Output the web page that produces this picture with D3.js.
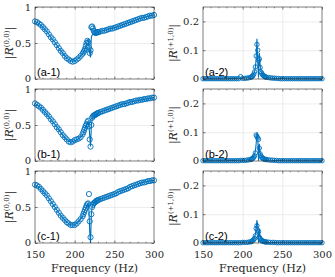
<!DOCTYPE html>
<html>
<head>
<meta charset="utf-8">
<script src="https://cdn.jsdelivr.net/npm/d3@7"></script>
<style>
  body { margin: 0; background: #fff; }
</style>
</head>
<body>
<div id="chart"></div>
<script>
// frequency grids (Hz)
const freqExp = [150,152.5,155,157.5,160,162.5,165,167.5,170,172.5,175,177.5,180,182.5,185,187.5,190,192.5,195,197.5,200,202.5,205,207.5,210,
  211,212,213,214,215,216,217,218,219,220,221,222,223,224,225,226,227,228,229,
  230,232.5,235,237.5,240,242.5,245,247.5,250,252.5,255,257.5,260,262.5,265,267.5,270,272.5,275,277.5,280,282.5,285,287.5,290,292.5,295,297.5,300];
const freqSim = [150,155,160,165,170,175,180,185,190,195,200,205,210,
  211,212,213,214,215,216,217,218,219,220,221,222,223,224,225,226,227,228,229,
  230,235,240,245,250,255,260,265,270,275,280,285,290,295,300];

// |R(0,0)| measured (circles) and computed (line)
const expA1 = [0.80,0.79,0.77,0.75,0.72,0.69,0.66,0.62,0.58,0.55,0.51,0.47,0.43,0.39,0.36,0.32,0.29,0.27,0.25,0.24,0.25,0.27,0.29,0.32,0.35,
  0.37,0.39,0.42,0.46,0.50,0.53,0.51,0.44,0.36,0.40,0.72,0.73,0.70,0.67,0.65,0.64,0.64,0.65,0.65,
  0.65,0.66,0.67,0.67,0.68,0.69,0.70,0.70,0.71,0.72,0.73,0.74,0.75,0.76,0.77,0.78,0.79,0.80,0.81,0.82,0.83,0.84,0.85,0.85,0.86,0.87,0.88,0.88,0.89];
const simA1 = [0.80,0.77,0.72,0.66,0.58,0.51,0.43,0.36,0.29,0.25,0.25,0.29,0.35,
  0.37,0.39,0.42,0.45,0.49,0.53,0.55,0.48,0.36,0.30,0.58,0.61,0.62,0.62,0.63,0.63,0.64,0.64,0.65,
  0.65,0.67,0.68,0.70,0.71,0.73,0.75,0.77,0.79,0.81,0.83,0.85,0.86,0.88,0.89];
const expB1 = [0.80,0.78,0.76,0.74,0.71,0.68,0.65,0.62,0.58,0.55,0.51,0.47,0.44,0.40,0.36,0.33,0.30,0.27,0.26,0.27,0.29,0.30,0.31,0.33,0.37,
  0.40,0.43,0.46,0.49,0.51,0.54,0.56,0.48,0.30,0.20,0.50,0.60,0.62,0.63,0.64,0.64,0.65,0.66,0.66,
  0.67,0.68,0.69,0.70,0.71,0.72,0.73,0.74,0.75,0.76,0.77,0.78,0.79,0.79,0.80,0.81,0.82,0.82,0.83,0.84,0.84,0.85,0.85,0.86,0.86,0.87,0.87,0.88,0.88];
const simB1 = [0.80,0.76,0.71,0.65,0.58,0.51,0.44,0.36,0.30,0.26,0.28,0.31,0.36,
  0.39,0.42,0.45,0.48,0.50,0.53,0.55,0.50,0.35,0.20,0.48,0.58,0.61,0.62,0.63,0.64,0.65,0.65,0.66,
  0.67,0.69,0.71,0.73,0.75,0.77,0.79,0.80,0.82,0.83,0.84,0.85,0.86,0.87,0.88];
const expC1 = [0.81,0.80,0.78,0.75,0.72,0.69,0.66,0.62,0.58,0.54,0.50,0.46,0.42,0.38,0.35,0.32,0.29,0.27,0.25,0.25,0.25,0.27,0.30,0.33,0.37,
  0.40,0.43,0.46,0.49,0.52,0.54,0.55,0.68,0.30,0.08,0.40,0.50,0.53,0.55,0.56,0.57,0.58,0.59,0.59,
  0.60,0.61,0.62,0.63,0.64,0.65,0.66,0.67,0.68,0.69,0.71,0.72,0.73,0.74,0.75,0.76,0.78,0.79,0.80,0.81,0.82,0.83,0.84,0.84,0.85,0.86,0.86,0.87,0.87];
const simC1 = [0.81,0.78,0.72,0.66,0.58,0.50,0.42,0.35,0.29,0.25,0.25,0.30,0.37,
  0.40,0.43,0.46,0.48,0.50,0.53,0.55,0.45,0.15,0.00,0.40,0.50,0.53,0.55,0.56,0.57,0.58,0.59,0.59,
  0.60,0.62,0.64,0.66,0.68,0.71,0.73,0.75,0.78,0.80,0.82,0.84,0.85,0.86,0.87];

// |R(+1,0)| measured (circles) and computed (line)
const expA2 = [0.001,0.001,0.001,0.001,0.001,0.001,0.001,0.001,0.001,0.001,0.001,0.001,0.001,0.001,0.001,0.001,0.001,0.001,0.001,0.008,0.002,0.002,0.003,0.004,0.006,
  0.007,0.009,0.012,0.017,0.025,0.042,0.080,0.120,0.100,0.065,0.070,0.040,0.025,0.020,0.015,0.012,0.010,0.008,0.007,
  0.006,0.005,0.004,0.003,0.003,0.002,0.002,0.001,0.001,0.001,0.001,0.001,0.001,0.001,0.001,0.001,0.001,0.001,0.001,0.001,0.001,0.001,0.001,0.001,0.001,0.001,0.001,0.001,0.001];
const simA2 = [0.001,0.001,0.001,0.001,0.001,0.001,0.001,0.002,0.002,0.003,0.004,0.005,0.007,
  0.008,0.010,0.013,0.018,0.026,0.040,0.070,0.140,0.060,0.005,0.090,0.050,0.030,0.020,0.015,0.012,0.010,0.008,0.007,
  0.006,0.004,0.003,0.002,0.002,0.001,0.001,0.001,0.001,0.001,0.001,0.001,0.001,0.001,0.001];
const expB2 = [0.001,0.001,0.001,0.001,0.001,0.001,0.001,0.001,0.001,0.001,0.001,0.001,0.001,0.001,0.001,0.001,0.001,0.001,0.001,0.002,0.002,0.002,0.003,0.004,0.005,
  0.006,0.008,0.010,0.013,0.018,0.028,0.090,0.085,0.080,0.075,0.045,0.025,0.018,0.013,0.010,0.008,0.007,0.006,0.005,
  0.005,0.004,0.003,0.003,0.002,0.002,0.001,0.001,0.001,0.001,0.001,0.001,0.001,0.001,0.001,0.001,0.001,0.001,0.001,0.001,0.001,0.001,0.001,0.001,0.001,0.001,0.001,0.001,0.001];
const simB2 = [0.001,0.001,0.001,0.001,0.001,0.001,0.001,0.002,0.002,0.003,0.003,0.004,0.006,
  0.007,0.009,0.012,0.016,0.022,0.035,0.060,0.100,0.085,0.002,0.060,0.030,0.020,0.015,0.011,0.009,0.007,0.006,0.005,
  0.004,0.003,0.002,0.002,0.001,0.001,0.001,0.001,0.001,0.001,0.001,0.001,0.001,0.001,0.001];
const expC2 = [0.001,0.001,0.001,0.001,0.001,0.001,0.001,0.001,0.001,0.001,0.001,0.001,0.001,0.001,0.001,0.001,0.001,0.001,0.001,0.001,0.002,0.002,0.002,0.003,0.004,
  0.005,0.007,0.009,0.012,0.016,0.025,0.050,0.060,0.045,0.040,0.020,0.015,0.011,0.009,0.007,0.006,0.005,0.004,0.004,
  0.003,0.003,0.002,0.002,0.002,0.001,0.001,0.001,0.001,0.001,0.001,0.001,0.001,0.001,0.001,0.001,0.001,0.001,0.001,0.001,0.001,0.001,0.001,0.001,0.001,0.001,0.001,0.001,0.001];
const simC2 = [0.001,0.001,0.001,0.001,0.001,0.001,0.001,0.001,0.002,0.002,0.003,0.004,0.005,
  0.006,0.008,0.010,0.014,0.020,0.030,0.050,0.080,0.060,0.002,0.045,0.025,0.017,0.012,0.009,0.007,0.006,0.005,0.004,
  0.003,0.002,0.002,0.001,0.001,0.001,0.001,0.001,0.001,0.001,0.001,0.001,0.001,0.001,0.001];

const panelLabels = ["(a-1)","(a-2)","(b-1)","(b-2)","(c-1)","(c-2)"];
const xTicks = [150, 200, 250, 300];
const xMinor = [160, 170, 180, 190, 210, 220, 230, 240, 260, 270, 280, 290];
const yTicksLeft = [0, 0.5, 1];
const yTicksRight = [0, 0.1, 0.2];

const W = 335, H = 277;
const blue = "#0072BD", ink = "#262626", gridC = "#dfdfdf";
const serif = "'DejaVu Serif', serif";
const rowTops = [7, 89, 171], ph = 72;
const cols = [
  { x0: 35, x1: 154, ymax: 1, ticks: yTicksLeft, fmt: d => d === 0 ? "0" : d === 1 ? "1" : d3.format(".1f")(d),
    sup: "(0,0)", labX: 13, r: 2.6 },
  { x0: 203, x1: 322, ymax: 0.25, ticks: yTicksRight, fmt: d => d === 0 ? "0" : d3.format(".1f")(d),
    sup: "(+1,0)", labX: 177, r: 2.2 }
];
const panels = [
  { row: 0, col: 0, exp: expA1, sim: simA1 }, { row: 0, col: 1, exp: expA2, sim: simA2 },
  { row: 1, col: 0, exp: expB1, sim: simB1 }, { row: 1, col: 1, exp: expB2, sim: simB2 },
  { row: 2, col: 0, exp: expC1, sim: simC1 }, { row: 2, col: 1, exp: expC2, sim: simC2 }
];

const svg = d3.select("#chart").append("svg")
  .attr("width", W).attr("height", H);

function styleTicks(sel) {
  sel.select(".domain").remove();
  sel.selectAll("line").attr("stroke", ink).attr("stroke-width", 0.6);
  sel.selectAll("text").style("font-family", serif).style("font-size", "10px").attr("fill", ink);
}

panels.forEach((p, i) => {
  const c = cols[p.col];
  const top = rowTops[p.row], bot = top + ph;
  const x = d3.scaleLinear().domain([150, 300]).range([c.x0, c.x1]);
  const y = d3.scaleLinear().domain([0, c.ymax]).range([bot, top]);
  const g = svg.append("g");

  // grid
  g.append("g").attr("transform", `translate(0,${bot})`)
    .call(d3.axisBottom(x).tickValues([200, 250]).tickSize(-ph).tickFormat(""))
    .call(a => a.select(".domain").remove())
    .selectAll("line").attr("stroke", gridC).attr("stroke-width", 0.6);
  g.append("g").attr("transform", `translate(${c.x0},0)`)
    .call(d3.axisLeft(y).tickValues(c.ticks.filter(t => t > 0)).tickSize(-(c.x1 - c.x0)).tickFormat(""))
    .call(a => a.select(".domain").remove())
    .selectAll("line").attr("stroke", gridC).attr("stroke-width", 0.6);

  // data
  const line = d3.line().x((d, k) => x(freqSim[k])).y(d => y(d));
  g.append("path").datum(p.sim)
    .attr("d", line).attr("fill", "none")
    .attr("stroke", blue).attr("stroke-width", 1.1);
  g.selectAll("circle.m").data(p.exp).join("circle")
    .attr("class", "m")
    .attr("cx", (d, k) => x(freqExp[k])).attr("cy", d => y(d))
    .attr("r", c.r).attr("fill", "none")
    .attr("stroke", blue).attr("stroke-width", 0.9);

  // box, ticks
  g.append("rect").attr("x", c.x0).attr("y", top)
    .attr("width", c.x1 - c.x0).attr("height", ph)
    .attr("fill", "none").attr("stroke", ink).attr("stroke-width", 0.6);

  g.append("g").attr("transform", `translate(0,${bot})`)
    .call(d3.axisBottom(x).tickValues(xTicks).tickSizeInner(-2.5).tickSizeOuter(0).tickPadding(8)
      .tickFormat(p.row === 2 ? d3.format("d") : ""))
    .call(styleTicks);
  g.append("g").attr("transform", `translate(0,${top})`)
    .call(d3.axisTop(x).tickValues(xTicks).tickSizeInner(-2.5).tickSizeOuter(0).tickFormat(""))
    .call(styleTicks);
  [bot, top].forEach((yy, j) => {
    g.selectAll(null).data(xMinor).join("line")
      .attr("x1", d => x(d)).attr("x2", d => x(d))
      .attr("y1", yy).attr("y2", j === 0 ? yy - 1.3 : yy + 1.3)
      .attr("stroke", ink).attr("stroke-width", 0.5);
  });

  g.append("g").attr("transform", `translate(${c.x0},0)`)
    .call(d3.axisLeft(y).tickValues(c.ticks).tickSizeInner(-2.5).tickSizeOuter(0).tickPadding(4).tickFormat(c.fmt))
    .call(styleTicks)
    .call(a => a.selectAll("text").filter(d => d === 0).attr("dy", "0.2em"));
  g.append("g").attr("transform", `translate(${c.x1},0)`)
    .call(d3.axisRight(y).tickValues(c.ticks).tickSizeInner(-2.5).tickSizeOuter(0).tickFormat(""))
    .call(styleTicks);

  // panel tag
  g.append("text").attr("x", c.x0 + 2).attr("y", bot - 3)
    .style("font-family", "'Liberation Sans', Arial, sans-serif").style("font-size", "11px")
    .attr("fill", "#000").text(panelLabels[i]);

  // y label
  const t = g.append("text")
    .attr("transform", `translate(${c.labX},${top + ph / 2}) rotate(-90)`)
    .attr("text-anchor", "middle")
    .style("font-family", serif).style("font-size", "11px").attr("fill", ink);
  t.append("tspan").text("|");
  t.append("tspan").style("font-style", "italic").text("R");
  t.append("tspan").style("font-size", "7px").attr("dy", -4).text(c.sup);
  t.append("tspan").attr("dy", 4).text("|");
});

// x labels
cols.forEach(c => {
  svg.append("text").attr("x", (c.x0 + c.x1) / 2).attr("y", 272)
    .attr("text-anchor", "middle")
    .style("font-family", serif).style("font-size", "11px").attr("fill", ink)
    .text("Frequency (Hz)");
});
</script>
</body>
</html>
